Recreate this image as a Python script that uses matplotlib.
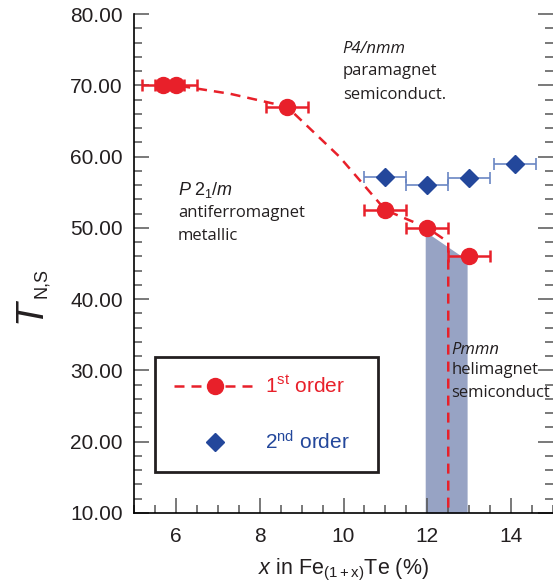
import numpy as np
import matplotlib
matplotlib.use("Agg")
import matplotlib.pyplot as plt
from matplotlib.lines import Line2D

plt.rcParams['font.family'] = ['Liberation Sans', 'DejaVu Sans']
plt.rcParams['mathtext.fontset'] = 'custom'
plt.rcParams['mathtext.rm'] = 'Liberation Sans'
plt.rcParams['mathtext.it'] = 'Liberation Sans:italic'

# 1st order transition (red circles)
x_first = [5.7, 6.0, 8.65, 11.0, 12.0, 13.0]
t_first = [70.0, 70.0, 67.0, 52.5, 50.0, 46.0]
xerr_first = [0.5, 0.5, 0.5, 0.5, 0.5, 0.5]

# 2nd order transition (blue diamonds)
x_second = [11.0, 12.0, 13.0, 14.1]
t_second = [57.2, 56.0, 57.0, 59.0]
xerr_second = [0.5, 0.5, 0.5, 0.5]

# dashed phase boundary
x_bound = [5.7, 6.0, 7.3, 8.65, 9.9, 11.0, 12.0, 12.5, 12.5]
t_bound = [70.0, 70.0, 68.8, 67.0, 60.0, 52.5, 50.0, 48.0, 10.0]

# shaded Pmmn region
x_shade = [11.95, 12.95]
t_shade_top = [49.5, 45.5]

red = '#e8202a'
blue = '#23479b'
blue_light = '#6a86c3'
shade = '#97a3c4'
ink = '#231f20'

fig = plt.figure(figsize=(5.53, 5.86), dpi=100)
ax = fig.add_axes([134/553, 73/586, 419/553, 499/586])

ax.fill_between(x_shade, t_shade_top, 10, color=shade, lw=0, zorder=1)
ax.plot(x_bound, t_bound, color=red, lw=1.8, dashes=(4, 2.8), zorder=2)
ax.errorbar(x_first, t_first, xerr=xerr_first, fmt='o', color=red, ms=11.5,
            elinewidth=1.8, capsize=4.5, capthick=1.8, zorder=3)
ax.errorbar(x_second, t_second, xerr=xerr_second, fmt='D', color=blue, ms=9.5,
            ecolor=blue_light, elinewidth=1.2, capsize=4.5, capthick=1.2, zorder=3)

ax.set_xlim(5, 15)
ax.set_ylim(10, 80)
ax.set_xticks([6, 8, 10, 12, 14])
ax.set_xticks(np.arange(5, 15.01, 0.5), minor=True)
ax.set_yticks(np.arange(10, 81, 10))
ax.set_yticks(np.arange(10, 81, 2), minor=True)
ax.set_yticklabels(['%.2f' % v for v in np.arange(10, 81, 10)])
ax.tick_params(which='both', direction='in', right=True, top=False,
               labelsize=15, labelcolor=ink, color='#555555', width=1.1)
ax.tick_params(which='major', length=10.5)
ax.tick_params(which='minor', length=5.5)
ax.tick_params(axis='y', pad=8)
ax.tick_params(axis='x', pad=10)
ax.spines['top'].set_visible(False)
ax.spines['right'].set_visible(False)
ax.spines['left'].set_linewidth(1.2)
ax.spines['bottom'].set_linewidth(1.2)

ax.set_xlabel(r'$\mathit{x}$ in Fe$_{\mathrm{(1+x)}}$Te (%)', fontsize=15.5, color=ink)
ax.xaxis.set_label_coords(0.5, -0.088)

# y label: big italic T with N,S subscript
fig.text(31/553, 1 - 311/586, 'T', style='italic', fontsize=28, rotation=90,
         ha='center', va='center', color=ink)
fig.text(42/553, 1 - 283/586, 'N,S', fontsize=13, rotation=90,
         ha='center', va='center', color=ink)

ann = dict(fontsize=12, family=['Open Sans', 'DejaVu Sans'], color=ink, va='center')
ax.text(9.98, 75.1, 'P4/nmm', style='italic', **ann)
ax.text(9.98, 72.0, 'paramagnet', **ann)
ax.text(9.98, 68.7, 'semiconduct.', **ann)
ax.text(6.05, 55.3, r'$\mathit{P}\;2_1/\mathit{m}$', fontsize=13, color=ink, va='center')
ax.text(6.05, 52.1, 'antiferromagnet', **ann)
ax.text(6.05, 48.9, 'metallic', **ann)
ax.text(12.57, 32.9, 'Pmmn', style='italic', **ann)
ax.text(12.57, 30.1, 'helimagnet', **ann)
ax.text(12.57, 26.8, 'semiconduct', **ann)

h1 = Line2D([], [], color=red, lw=1.8, dashes=(4, 2.8), marker='o', ms=11.5)
h2 = Line2D([], [], color=blue, lw=0, marker='D', ms=9.5)
leg = ax.legend([h1, h2], [r'1$^{\mathrm{st}}$ order', r'2$^{\mathrm{nd}}$ order'],
                loc='lower left', bbox_to_anchor=(0.05, 0.082, 0.532, 0.23),
                mode='expand', fontsize=15,
                labelcolor=[red, blue], fancybox=False, edgecolor=ink,
                handlelength=4.0, handletextpad=0.4, labelspacing=1.6,
                borderpad=0.9, borderaxespad=0, framealpha=1)
leg.get_frame().set_linewidth(2)

fig.savefig('out.png', dpi=100)
